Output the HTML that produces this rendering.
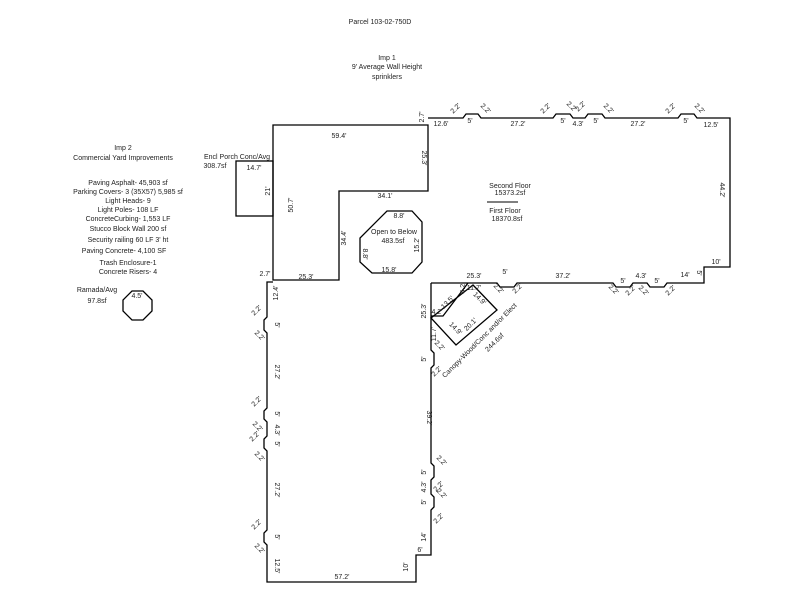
<!DOCTYPE html>
<html><head><meta charset="utf-8"><style>
html,body{margin:0;padding:0;background:#fff;}
svg{display:block;}
text{font-family:"Liberation Sans",sans-serif;font-size:7px;fill:#222;}
</style></head><body>
<svg width="800" height="600" viewBox="0 0 800 600" xmlns="http://www.w3.org/2000/svg">
<g fill="none" stroke="#000" stroke-width="1.3">
<path d="M273,280 V125 H428 V191 H339 V280 Z"/>
<rect x="236" y="161" width="37" height="55"/>
<path d="M428,118 H463 l3,-4 h12 l3,4 H553 l3,-4 h14 l3,4 H585 l3,-4 h14 l3,4 H678 l3,-4 h13 l3,4 H730 V267 H704 V283 H667 l-3,4 h-14 l-3,-4 H633 l-3,4 h-14 l-3,-4 H517 l-3,4 h-14 l-3,-4 H431"/>
<path d="M431,283 V350 l3,3 v12 l-3,3 V463 l3,3 v11 l-3,3 V494 l3,3 v10 l-3,3 V555 H416 V582 H267 V545 l-3,-3 v-9 l3,-3 V451 l-3,-3 v-9 l3,-3 V422 l-3,-3 v-8 l3,-3 V333 l-3,-3 v-10 l3,-3 V282 H273"/>
<polygon points="387,211 412,211 422,222 422,262 412,273 372,273 360,262 360,238"/>
<path d="M468,283 L443,316 H431"/>
<polygon points="473,285 497,310 456,345 431,318"/>
<polygon points="132,291 143,291 152,300 152,311 143,320 132,320 123,311 123,300"/>
<line x1="487" y1="202" x2="518" y2="202" stroke="#555" stroke-width="1.5"/>
</g>
<g text-anchor="middle">
<text x="380" y="24">Parcel 103-02-750D</text>
<text x="387" y="60">Imp 1</text>
<text x="387" y="69">9' Average Wall Height</text>
<text x="387" y="79">sprinklers</text>
<text x="123" y="150">Imp 2</text>
<text x="123" y="160">Commercial Yard Improvements</text>
<text x="128" y="185">Paving Asphalt-  45,903 sf</text>
<text x="128" y="194">Parking Covers- 3  (35X57) 5,985 sf</text>
<text x="128" y="203">Light Heads- 9</text>
<text x="128" y="212">Light Poles-   108 LF</text>
<text x="128" y="221">ConcreteCurbing- 1,553 LF</text>
<text x="128" y="231">Stucco Block Wall  200 sf</text>
<text x="128" y="242">Security railing  60 LF 3' ht</text>
<text x="124" y="253">Paving Concrete-  4,100 SF</text>
<text x="128" y="265">Trash Enclosure-1</text>
<text x="128" y="274">Concrete Risers- 4</text>
<text x="97" y="292">Ramada/Avg</text>
<text x="97" y="303">97.8sf</text>
<text x="137" y="298">4.5'</text>
<text x="237" y="159">Encl Porch Conc/Avg</text>
<text x="215" y="168">308.7sf</text>
<text x="254" y="170">14.7'</text>
<text x="339" y="138">59.4'</text>
<text x="385" y="198">34.1'</text>
<text x="265" y="276">2.7'</text>
<text x="306" y="279">25.3'</text>
<text x="394" y="234">Open to Below</text>
<text x="393" y="243">483.5sf</text>
<text x="399" y="218">8.8'</text>
<text x="389" y="272">15.8'</text>
<text x="441" y="126">12.6'</text>
<text x="470" y="123">5'</text>
<text x="518" y="126">27.2'</text>
<text x="563" y="123">5'</text>
<text x="578" y="126">4.3'</text>
<text x="596" y="123">5'</text>
<text x="638" y="126">27.2'</text>
<text x="686" y="123">5'</text>
<text x="711" y="127">12.5'</text>
<text x="510" y="188">Second Floor</text>
<text x="510" y="195">15373.2sf</text>
<text x="505" y="213">First Floor</text>
<text x="507" y="221">18370.8sf</text>
<text x="716" y="264">10'</text>
<text x="685" y="277">14'</text>
<text x="563" y="278">37.2'</text>
<text x="505" y="274">5'</text>
<text x="474" y="278">25.3'</text>
<text x="641" y="278">4.3'</text>
<text x="623" y="283">5'</text>
<text x="657" y="283">5'</text>
<text x="342" y="579">57.2'</text>
<text x="420" y="552">6'</text>
<text x="437" y="314">4.2'</text>
<text x="474" y="290">11.7'</text>
</g>
<g text-anchor="middle">
<text transform="translate(424,117) rotate(-90)">2.7'</text>
<text transform="translate(422,158) rotate(90)">25.3'</text>
<text transform="translate(346,238) rotate(-90)">34.4'</text>
<text transform="translate(293,205) rotate(-90)">50.7'</text>
<text transform="translate(270,191) rotate(-90)">21'</text>
<text transform="translate(720,190) rotate(90)">44.2'</text>
<text transform="translate(697,273) rotate(90)">5'</text>
<text transform="translate(426,311) rotate(-90)">25.3'</text>
<text transform="translate(427,418) rotate(90)">39.2'</text>
<text transform="translate(408,567) rotate(-90)">10'</text>
<text transform="translate(426,537) rotate(-90)">14'</text>
<text transform="translate(278,293) rotate(-90)">12.4'</text>
<text transform="translate(275,372) rotate(90)">27.2'</text>
<text transform="translate(275,490) rotate(90)">27.2'</text>
<text transform="translate(275,566) rotate(90)">12.5'</text>
<text transform="translate(275,325) rotate(90)">5'</text>
<text transform="translate(275,414) rotate(90)">5'</text>
<text transform="translate(275,430) rotate(90)">4.3'</text>
<text transform="translate(275,444) rotate(90)">5'</text>
<text transform="translate(275,537) rotate(90)">5'</text>
<text transform="translate(426,359) rotate(-90)">5'</text>
<text transform="translate(426,472) rotate(-90)">5'</text>
<text transform="translate(426,487) rotate(-90)">4.3'</text>
<text transform="translate(426,502) rotate(-90)">5'</text>
<text transform="translate(363,254) rotate(90)">8.8'</text>
<text transform="translate(419,245) rotate(-90)">15.2'</text>
<text transform="translate(449,304) rotate(-45)">13.5'</text>
<text transform="translate(465,288) rotate(-90)">4.2'</text>
<text transform="translate(478,300) rotate(45)">14.9'</text>
<text transform="translate(454,330) rotate(45)">14.9'</text>
<text transform="translate(472,326) rotate(-45)">20.1'</text>
<text transform="translate(436,334) rotate(-90)">11.7'</text>
<text transform="translate(481,342) rotate(-45)">Canopy-Wood/Conc and/or Elect</text>
<text transform="translate(496,344) rotate(-45)">244.6sf</text>
</g>
<g text-anchor="middle">
<text transform="translate(457,110) rotate(-45)">2.2'</text>
<text transform="translate(484,110) rotate(45)">2.2'</text>
<text transform="translate(547,110) rotate(-45)">2.2'</text>
<text transform="translate(570,108) rotate(45)">2.2'</text>
<text transform="translate(582,108) rotate(-45)">2.2'</text>
<text transform="translate(607,110) rotate(45)">2.2'</text>
<text transform="translate(672,110) rotate(-45)">2.2'</text>
<text transform="translate(698,110) rotate(45)">2.2'</text>
<text transform="translate(612,291) rotate(45)">2.2'</text>
<text transform="translate(632,292) rotate(-45)">2.2'</text>
<text transform="translate(642,292) rotate(45)">2.2'</text>
<text transform="translate(672,292) rotate(-45)">2.2'</text>
<text transform="translate(497,290) rotate(45)">2.2'</text>
<text transform="translate(519,290) rotate(-45)">2.2'</text>
<text transform="translate(258,312) rotate(-45)">2.2'</text>
<text transform="translate(258,337) rotate(45)">2.2'</text>
<text transform="translate(258,403) rotate(-45)">2.2'</text>
<text transform="translate(256,428) rotate(45)">2.2'</text>
<text transform="translate(256,438) rotate(-45)">2.2'</text>
<text transform="translate(258,458) rotate(45)">2.2'</text>
<text transform="translate(258,526) rotate(-45)">2.2'</text>
<text transform="translate(258,550) rotate(45)">2.2'</text>
<text transform="translate(438,347) rotate(45)">2.2'</text>
<text transform="translate(438,373) rotate(-45)">2.2'</text>
<text transform="translate(440,462) rotate(45)">2.2'</text>
<text transform="translate(440,488) rotate(-45)">2.2'</text>
<text transform="translate(440,495) rotate(45)">2.2'</text>
<text transform="translate(440,520) rotate(-45)">2.2'</text>
</g>
</svg>
</body></html>
